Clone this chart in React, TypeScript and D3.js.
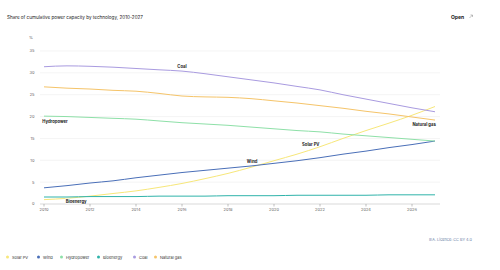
import React from "react";
import * as d3 from "d3";

const years = [2010, 2011, 2012, 2013, 2014, 2015, 2016, 2017, 2018, 2019, 2020, 2021, 2022, 2023, 2024, 2025, 2026, 2027];
const solarPV = [1.0, 1.3, 1.8, 2.4, 3.0, 3.8, 4.7, 5.8, 7.0, 8.4, 9.9, 11.4, 13.1, 15.0, 16.8, 18.5, 20.3, 22.3];
const wind = [3.7, 4.2, 4.8, 5.3, 6.0, 6.6, 7.2, 7.7, 8.2, 8.7, 9.3, 9.9, 10.6, 11.4, 12.1, 12.9, 13.6, 14.4];
const hydropower = [20.1, 20.0, 19.8, 19.6, 19.4, 19.0, 18.6, 18.3, 18.0, 17.6, 17.2, 16.8, 16.5, 16.0, 15.6, 15.2, 14.8, 14.4];
const bioenergy = [1.6, 1.6, 1.7, 1.7, 1.7, 1.8, 1.8, 1.8, 1.9, 1.9, 1.9, 2.0, 2.0, 2.0, 2.0, 2.1, 2.1, 2.1];
const coal = [31.4, 31.6, 31.5, 31.3, 31.0, 30.7, 30.4, 29.8, 29.1, 28.4, 27.7, 26.9, 26.1, 25.0, 24.0, 23.0, 22.0, 21.1];
const naturalGas = [26.8, 26.5, 26.3, 26.0, 25.8, 25.3, 24.7, 24.5, 24.4, 24.1, 23.6, 23.1, 22.5, 21.9, 21.2, 20.6, 19.9, 19.2];

const seriesNames = ["Solar PV", "Wind", "Hydropower", "Bioenergy", "Coal", "Natural gas"];
const seriesValues = [solarPV, wind, hydropower, bioenergy, coal, naturalGas];
const colors = ["#f7e77a", "#4a6fb8", "#8ee0a8", "#2fb3aa", "#a99be0", "#f5c469"];
const yTicks = [0, 5, 10, 15, 20, 25, 30, 35];
const xTicks = [2010, 2012, 2014, 2016, 2018, 2020, 2022, 2024, 2026];

// label placement: [series index, year, dx, dy]
const lineLabels: [number, number, number, number][] = [
  [4, 2016, 0, -3],
  [2, 2010, 11, 7],
  [1, 2019.05, 0, -3],
  [0, 2021.6, 0, -4],
  [5, 2026.7, -4, 7],
  [3, 2011.4, 0, 6],
];

export default function App() {
  const x = d3.scaleLinear().domain([2010, 2027]).range([44, 435]);
  const y = d3.scaleLinear().domain([0, 35]).range([204, 51]);
  const font = "Inter, 'Noto Sans', sans-serif";
  const line = (vals: number[]) =>
    d3.line<number>().x((_, i) => x(years[i])).y((d) => y(d)).curve(d3.curveMonotoneX)(vals) || "";

  const valAt = (idx: number, yr: number) => {
    const vals = seriesValues[idx];
    const i = Math.min(Math.floor(yr - 2010), years.length - 2);
    const t = yr - years[i];
    return vals[i] + (vals[i + 1] - vals[i]) * t;
  };

  const legendX = [6, 37, 60, 97, 133, 154];

  return (
    <div style={{ position: "absolute", left: 0, top: 0, width: 500, height: 270, background: "#fff" }}>
      <svg width={500} height={270} style={{ display: "block", fontFamily: font }}>
        <rect width={500} height={270} fill="#fff" />
        <text x={7} y={18.5} fontSize={4.6} fill="#222">
          Share of cumulative power capacity by technology, 2010-2027
        </text>
        <text x={451} y={18.5} fontSize={5} fontWeight={700} fill="#222">
          Open
        </text>
        <path d="M469.5,18 l3,-3 M470.5,15 h2 v2" stroke="#999" strokeWidth={0.6} fill="none" />
        <text x={29} y={39} fontSize={4} fill="#666">%</text>
        {yTicks.map((t) => (
          <g key={t}>
            {t > 0 && <line x1={40} x2={440} y1={y(t)} y2={y(t)} stroke="#ececec" strokeWidth={0.6} />}
            <text x={34.5} y={y(t) + 1.4} fontSize={4} fill="#666" textAnchor="end">
              {t}
            </text>
          </g>
        ))}
        <line x1={40} x2={440} y1={y(0)} y2={y(0)} stroke="#c8c8c8" strokeWidth={0.7} />
        {xTicks.map((t) => (
          <g key={t}>
            <line x1={x(t)} x2={x(t)} y1={y(0)} y2={y(0) + 2.5} stroke="#999" strokeWidth={0.6} />
            <text x={x(t)} y={211} fontSize={4} fill="#666" textAnchor="middle">
              {t}
            </text>
          </g>
        ))}
        {seriesValues.map((vals, i) => (
          <path key={i} d={line(vals)} fill="none" stroke={colors[i]} strokeWidth={1} />
        ))}
        {lineLabels.map(([idx, yr, dx, dy]) => (
          <text
            key={idx}
            x={x(yr) + dx}
            y={y(valAt(idx, yr)) + dy}
            fontSize={4.2}
            fontWeight={700}
            fill="#222"
            textAnchor="middle"
            stroke="#fff"
            strokeWidth={1.2}
            paintOrder="stroke"
          >
            {seriesNames[idx]}
          </text>
        ))}
        {seriesNames.map((n, i) => (
          <g key={n}>
            <circle cx={legendX[i] + 1.5} cy={257} r={1.5} fill={colors[i]} />
            <text x={legendX[i] + 6} y={258.5} fontSize={4} fill="#333">
              {n}
            </text>
          </g>
        ))}
        <text x={429} y={241} fontSize={3.8} fill="#6a7fa8">
          IEA. Licence: CC BY 4.0
        </text>
      </svg>
    </div>
  );
}
